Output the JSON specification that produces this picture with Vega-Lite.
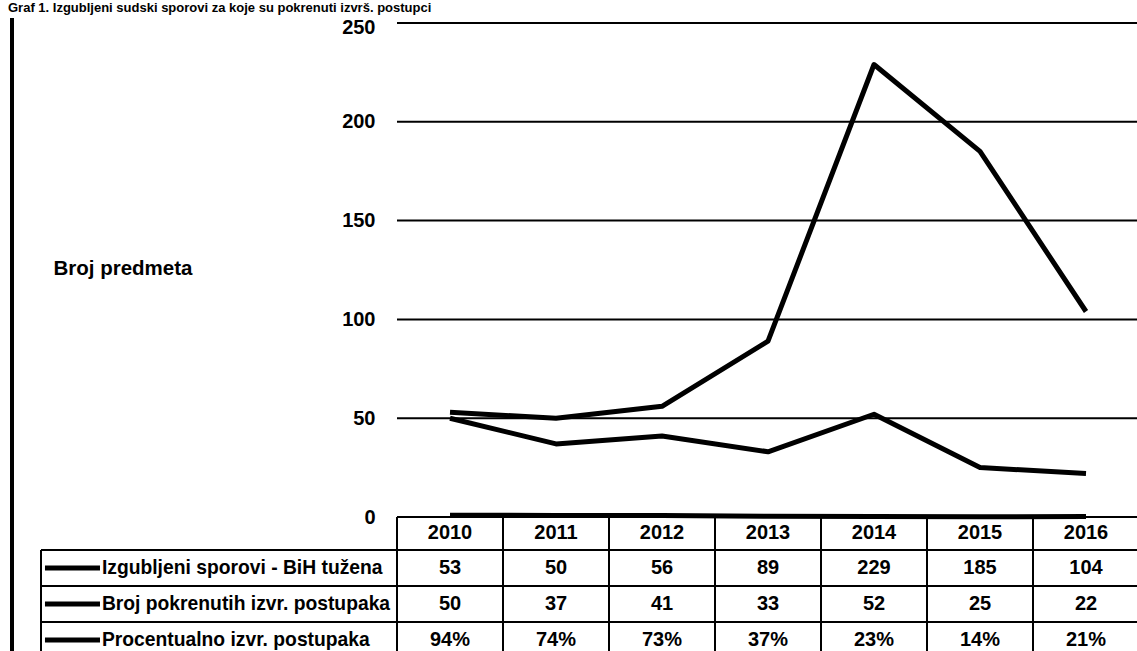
{
  "$schema": "https://vega.github.io/schema/vega-lite/v6.json",
  "width": 1137,
  "height": 651,
  "autosize": {"type": "none"},
  "padding": 0,
  "background": "white",
  "config": {"view": {"stroke": null}, "font": "Liberation Sans"},
  "datasets": {
    "series": [
      {"series": "Izgubljeni sporovi - BiH tužena", "year": 2010, "value": 53},
      {"series": "Izgubljeni sporovi - BiH tužena", "year": 2011, "value": 50},
      {"series": "Izgubljeni sporovi - BiH tužena", "year": 2012, "value": 56},
      {"series": "Izgubljeni sporovi - BiH tužena", "year": 2013, "value": 89},
      {"series": "Izgubljeni sporovi - BiH tužena", "year": 2014, "value": 229},
      {"series": "Izgubljeni sporovi - BiH tužena", "year": 2015, "value": 185},
      {"series": "Izgubljeni sporovi - BiH tužena", "year": 2016, "value": 104},
      {"series": "Broj pokrenutih izvr. postupaka", "year": 2010, "value": 50},
      {"series": "Broj pokrenutih izvr. postupaka", "year": 2011, "value": 37},
      {"series": "Broj pokrenutih izvr. postupaka", "year": 2012, "value": 41},
      {"series": "Broj pokrenutih izvr. postupaka", "year": 2013, "value": 33},
      {"series": "Broj pokrenutih izvr. postupaka", "year": 2014, "value": 52},
      {"series": "Broj pokrenutih izvr. postupaka", "year": 2015, "value": 25},
      {"series": "Broj pokrenutih izvr. postupaka", "year": 2016, "value": 22},
      {"series": "Procentualno izvr. postupaka", "year": 2010, "value": 0.94},
      {"series": "Procentualno izvr. postupaka", "year": 2011, "value": 0.74},
      {"series": "Procentualno izvr. postupaka", "year": 2012, "value": 0.73},
      {"series": "Procentualno izvr. postupaka", "year": 2013, "value": 0.37},
      {"series": "Procentualno izvr. postupaka", "year": 2014, "value": 0.23},
      {"series": "Procentualno izvr. postupaka", "year": 2015, "value": 0.14},
      {"series": "Procentualno izvr. postupaka", "year": 2016, "value": 0.21}
    ],
    "grid": [{"level": 0}, {"level": 50}, {"level": 100}, {"level": 150}, {"level": 200}, {"level": 250}]
  },
  "data": {"name": "series"},
  "layer": [
    {
      "data": {"name": "grid"},
      "mark": {"type": "rule", "stroke": "black", "strokeWidth": 2},
      "encoding": {
        "y": {
          "field": "level", "type": "quantitative",
          "scale": {"domain": [-67.81, 261.64], "nice": false, "zero": false},
          "axis": {
            "values": [0, 50, 100, 150, 200, 250],
            "offset": -397,
            "domain": false, "ticks": false, "tickSize": 0, "grid": false,
            "labelFont": "Liberation Sans", "labelFontSize": 20, "labelFontWeight": "bold",
            "labelColor": "black", "labelPadding": 22, "labelFlush": false, "labelOverlap": false,
            "labelOffset": {"condition": {"test": "datum.value === 250", "value": 4}, "value": 0},
            "title": "Broj predmeta", "titleAngle": 0, "titleAlign": "left", "titleBaseline": "middle",
            "titleX": -344, "titleY": 268, "titleFont": "Liberation Sans", "titleFontSize": 20.5,
            "titleFontWeight": "bold", "titleColor": "black"
          }
        },
        "x": {"datum": 2009.5, "type": "quantitative", "scale": {"domain": [2005.7547, 2016.4811], "nice": false, "zero": false}, "axis": null},
        "x2": {"datum": 2016.5}
      }
    },
    {
      "mark": {"type": "line", "stroke": "black", "strokeWidth": 5, "strokeJoin": "round"},
      "encoding": {
        "x": {"field": "year", "type": "quantitative"},
        "y": {"field": "value", "type": "quantitative"},
        "detail": {"field": "series"}
      }
    },
    {
      "mark": {"type": "rule", "stroke": "black", "strokeWidth": 2},
      "encoding": {"y": {"datum": -16.7}, "x": {"datum": 2006.1415}, "x2": {"datum": 2016.5}}
    },
    {
      "mark": {"type": "rule", "stroke": "black", "strokeWidth": 2},
      "encoding": {"y": {"datum": -34.92}, "x": {"datum": 2006.1415}, "x2": {"datum": 2016.5}}
    },
    {
      "mark": {"type": "rule", "stroke": "black", "strokeWidth": 2},
      "encoding": {"y": {"datum": -53.14}, "x": {"datum": 2006.1415}, "x2": {"datum": 2016.5}}
    },
    {
      "mark": {"type": "rule", "stroke": "black", "strokeWidth": 2},
      "encoding": {"x": {"datum": 2006.1415}, "y": {"datum": -16.7}, "y2": {"datum": -67.81}}
    },
    {
      "mark": {"type": "rule", "stroke": "black", "strokeWidth": 2.5},
      "encoding": {"x": {"datum": 2005.868}, "y": {"datum": 252.5}, "y2": {"datum": -67.81}}
    },
    {
      "transform": [{"filter": "datum.series === 'Izgubljeni sporovi - BiH tužena'"}],
      "mark": {"type": "rule", "stroke": "black", "strokeWidth": 2, "xOffset": -53},
      "encoding": {"x": {"field": "year", "type": "quantitative"}, "y": {"datum": 0}, "y2": {"datum": -67.81}}
    },
    {
      "transform": [{"filter": "datum.series === 'Izgubljeni sporovi - BiH tužena'"}],
      "mark": {"type": "text", "font": "Liberation Sans", "fontSize": 20, "fontWeight": "bold", "color": "black", "align": "center", "baseline": "middle"},
      "encoding": {"x": {"field": "year", "type": "quantitative"}, "y": {"datum": -8.1}, "text": {"field": "year", "type": "ordinal"}}
    },
    {
      "transform": [{"filter": "datum.series === 'Izgubljeni sporovi - BiH tužena'"}],
      "encoding": {"y": {"datum": -25.8}},
      "layer": [
        {
          "mark": {"type": "text", "font": "Liberation Sans", "fontSize": 20, "fontWeight": "bold", "color": "black", "align": "center", "baseline": "middle"},
          "encoding": {"x": {"field": "year", "type": "quantitative"}, "text": {"field": "value", "type": "quantitative", "format": "d"}}
        },
        {
          "transform": [{"filter": "datum.year === 2010"}],
          "mark": {"type": "rule", "stroke": "black", "strokeWidth": 5},
          "encoding": {"x": {"datum": 2006.179}, "x2": {"datum": 2006.698}}
        },
        {
          "transform": [{"filter": "datum.year === 2010"}],
          "mark": {"type": "text", "font": "Liberation Sans", "fontSize": 19.3, "fontWeight": "bold", "color": "black", "align": "left", "baseline": "middle"},
          "encoding": {"x": {"datum": 2006.716}, "text": {"field": "series"}}
        }
      ]
    },
    {
      "transform": [{"filter": "datum.series === 'Broj pokrenutih izvr. postupaka'"}],
      "encoding": {"y": {"datum": -44.0}},
      "layer": [
        {
          "mark": {"type": "text", "font": "Liberation Sans", "fontSize": 20, "fontWeight": "bold", "color": "black", "align": "center", "baseline": "middle"},
          "encoding": {"x": {"field": "year", "type": "quantitative"}, "text": {"field": "value", "type": "quantitative", "format": "d"}}
        },
        {
          "transform": [{"filter": "datum.year === 2010"}],
          "mark": {"type": "rule", "stroke": "black", "strokeWidth": 5},
          "encoding": {"x": {"datum": 2006.179}, "x2": {"datum": 2006.698}}
        },
        {
          "transform": [{"filter": "datum.year === 2010"}],
          "mark": {"type": "text", "font": "Liberation Sans", "fontSize": 19.3, "fontWeight": "bold", "color": "black", "align": "left", "baseline": "middle"},
          "encoding": {"x": {"datum": 2006.716}, "text": {"field": "series"}}
        }
      ]
    },
    {
      "transform": [{"filter": "datum.series === 'Procentualno izvr. postupaka'"}],
      "encoding": {"y": {"datum": -62.2}},
      "layer": [
        {
          "mark": {"type": "text", "font": "Liberation Sans", "fontSize": 20, "fontWeight": "bold", "color": "black", "align": "center", "baseline": "middle"},
          "encoding": {"x": {"field": "year", "type": "quantitative"}, "text": {"field": "value", "type": "quantitative", "format": ".0%"}}
        },
        {
          "transform": [{"filter": "datum.year === 2010"}],
          "mark": {"type": "rule", "stroke": "black", "strokeWidth": 5},
          "encoding": {"x": {"datum": 2006.179}, "x2": {"datum": 2006.698}}
        },
        {
          "transform": [{"filter": "datum.year === 2010"}],
          "mark": {"type": "text", "font": "Liberation Sans", "fontSize": 19.3, "fontWeight": "bold", "color": "black", "align": "left", "baseline": "middle"},
          "encoding": {"x": {"datum": 2006.716}, "text": {"field": "series"}}
        }
      ]
    },
    {
      "data": {"values": [{"label": "Graf 1. Izgubljeni sudski sporovi za koje su pokrenuti izvrš. postupci"}]},
      "mark": {"type": "text", "font": "Liberation Sans", "fontSize": 13, "fontWeight": "bold", "color": "black", "align": "left", "baseline": "alphabetic"},
      "encoding": {"x": {"datum": 2005.83}, "y": {"datum": 255.57}, "text": {"field": "label"}}
    }
  ]
}
